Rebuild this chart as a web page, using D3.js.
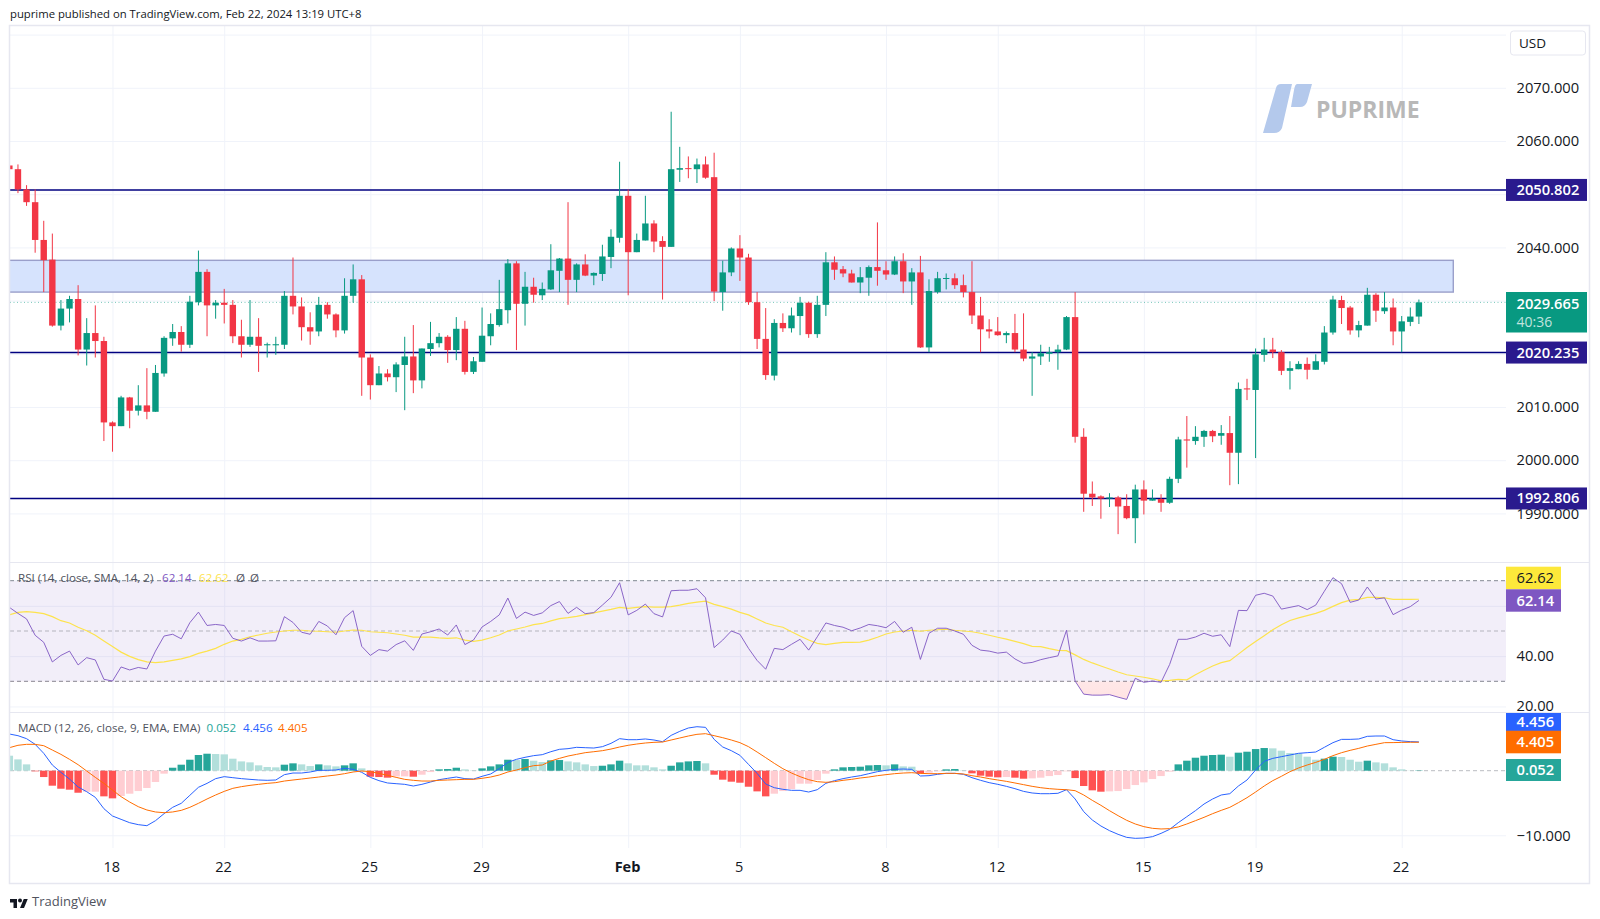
<!DOCTYPE html>
<html>
<head>
<meta charset="utf-8">
<script src="https://cdn.jsdelivr.net/npm/d3@7"></script>
<style>
  body { margin: 0; background: #fff; }
  text { font-family: "Open Sans", "Noto Sans", sans-serif; }
</style>
</head>
<body>
<div id="chart"></div>
<script>
// Candles (4h bars)
const opens = [
  2055.4,2054.7,2050.9,2048.5,2041.4,2037.7,2025.3,2028.5,2030.3,2020.8,
  2023.9,2022.4,2007.1,2006.4,2011.8,2009.3,2010.3,2009.1,2016.3,2022.9,
  2024.1,2021.7,2029.7,2035.4,2029.1,2029.6,2029.2,2023.3,2021.7,2023.2,
  2021.6,2021.6,2021.7,2030.9,2028.9,2025.0,2024.2,2029.2,2027.4,2024.4,
  2030.9,2034.0,2019.3,2014.1,2016.3,2015.6,2017.9,2019.5,2015.0,2020.9,
  2022.0,2023.2,2020.7,2024.7,2016.6,2018.5,2023.3,2025.4,2028.2,2037.0,
  2029.4,2032.6,2031.0,2032.1,2035.6,2037.9,2033.9,2036.8,2034.7,2035.0,
  2038.2,2041.8,2049.7,2039.1,2041.3,2044.5,2041.2,2040.1,2054.6,2054.9,
  2054.7,2055.6,2053.2,2031.6,2035.3,2039.8,2038.1,2029.7,2022.8,2015.9,
  2025.8,2024.8,2027.1,2029.6,2023.7,2029.2,2037.2,2035.9,2035.1,2033.4,
  2034.3,2036.3,2035.7,2034.9,2037.4,2033.6,2035.3,2021.2,2031.6,2034.12,
  2034.2,2032.9,2031.6,2027.2,2024.6,2024.2,2023.5,2023.9,2020.8,2019.1,
  2019.5,2020.0,2020.3,2020.8,2026.9,2004.4,1993.7,1993.2,1992.8,1993.0,
  1991.4,1989.1,1994.5,1992.4,1992.7,1992.0,1996.5,2003.9,2003.6,2004.4,
  2005.5,2004.6,2005.1,2001.4,2013.5,2013.2,2019.8,2020.8,2020.3,2016.8,
  2017.1,2018.1,2017.0,2018.5,2024.0,2030.1,2028.7,2024.4,2025.3,2031.1,
  2028.0,2028.7,2024.2,2026.0,2027.0
];
const closes = [
  2054.7,2050.9,2048.5,2041.4,2037.6,2025.3,2028.5,2030.3,2020.8,2023.9,
  2022.4,2007.1,2006.4,2011.8,2009.3,2010.3,2009.1,2016.4,2023.0,2024.1,
  2021.7,2029.8,2035.4,2029.1,2029.6,2029.2,2023.3,2021.7,2023.2,2021.5,
  2021.8,2021.8,2030.9,2028.9,2025.0,2024.2,2029.2,2027.4,2024.4,2030.9,
  2034.0,2019.3,2014.1,2016.3,2015.6,2018.0,2019.5,2015.0,2021.0,2022.0,
  2023.2,2020.7,2024.7,2016.6,2018.6,2023.4,2025.6,2028.4,2037.0,2029.4,
  2032.6,2031.1,2032.2,2035.7,2037.9,2033.9,2036.8,2034.7,2035.2,2038.3,
  2042.0,2049.7,2039.1,2041.4,2044.5,2041.1,2040.1,2054.7,2054.9,2054.8,
  2055.6,2053.1,2031.7,2035.3,2039.8,2038.1,2029.7,2022.8,2016.0,2025.8,
  2024.8,2027.2,2029.6,2023.7,2029.2,2037.2,2035.8,2035.1,2033.4,2034.4,
  2036.3,2035.6,2034.9,2037.4,2033.6,2035.3,2021.2,2031.8,2034.2,2034.25,
  2032.9,2031.6,2027.2,2024.6,2024.2,2023.5,2023.9,2020.8,2019.1,2019.5,
  2020.1,2020.3,2020.8,2026.9,2004.4,1993.7,1993.0,1992.8,1993.0,1991.3,
  1989.1,1994.5,1992.4,1992.8,1992.0,1996.5,2003.9,2003.7,2004.4,2005.5,
  2004.5,2005.1,2001.4,2013.4,2013.3,2019.9,2020.8,2020.3,2016.8,2017.3,
  2018.1,2017.0,2018.6,2024.0,2030.2,2028.6,2024.4,2025.4,2031.1,2028.1,
  2028.7,2024.2,2026.1,2027.0,2029.665
];
const highs = [
  2055.4,2055.6,2051.7,2050.9,2045.0,2042.6,2030.1,2030.9,2032.9,2026.7,
  2029.1,2023.2,2007.3,2012.1,2011.9,2014.1,2017.3,2017.9,2023.3,2025.6,
  2025.2,2030.9,2039.4,2035.9,2030.1,2032.2,2030.1,2026.4,2030.1,2026.7,
  2022.1,2023.2,2031.8,2038.1,2030.6,2027.8,2030.7,2029.7,2027.6,2034.2,
  2036.8,2034.8,2019.9,2017.7,2017.1,2018.4,2023.2,2025.4,2021.0,2026.0,
  2023.9,2023.5,2026.9,2026.2,2019.4,2028.7,2027.6,2033.9,2037.8,2037.4,
  2035.4,2034.3,2033.4,2040.6,2038.0,2048.5,2037.0,2038.7,2035.3,2040.5,
  2043.4,2056.1,2050.9,2042.6,2049.7,2045.1,2042.1,2065.5,2058.9,2057.1,
  2056.7,2057.1,2057.8,2037.5,2040.0,2042.3,2038.8,2031.6,2028.6,2026.5,
  2027.6,2028.7,2030.7,2029.8,2030.9,2039.1,2038.3,2036.5,2035.8,2036.3,
  2036.6,2044.7,2037.4,2038.3,2038.9,2036.1,2038.4,2034.0,2035.4,2035.1,
  2035.1,2034.9,2037.4,2030.7,2026.5,2026.9,2024.2,2027.5,2027.6,2020.3,
  2021.7,2021.3,2021.7,2027.1,2031.6,2006.0,1996.0,1993.4,1993.8,1993.3,
  1993.6,1995.4,1996.2,1994.5,1993.6,1996.9,2004.4,2008.3,2006.4,2005.7,
  2005.7,2006.6,2008.3,2014.6,2015.3,2021.0,2023.0,2023.0,2020.7,2018.6,
  2018.6,2019.3,2019.9,2025.2,2030.9,2030.9,2029.0,2026.2,2032.4,2031.4,
  2031.6,2030.4,2027.1,2028.7,2030.2
];
const lows = [
  2054.7,2050.2,2047.8,2039.0,2031.6,2025.1,2024.4,2025.9,2019.7,2017.8,
  2019.3,2003.6,2001.6,2006.4,2006.0,2008.4,2007.7,2009.1,2015.7,2021.5,
  2020.4,2021.1,2029.1,2023.3,2026.6,2025.7,2022.0,2019.3,2021.3,2016.6,
  2019.3,2019.8,2020.9,2027.4,2022.5,2021.7,2023.3,2026.6,2023.1,2023.8,
  2029.6,2012.1,2011.4,2014.1,2014.8,2012.8,2009.4,2012.6,2013.5,2019.6,
  2021.2,2018.3,2018.8,2016.1,2016.2,2018.5,2021.6,2025.1,2025.7,2020.7,
  2025.3,2029.6,2030.1,2032.0,2031.6,2029.2,2031.6,2034.6,2032.9,2033.7,
  2036.1,2040.9,2031.0,2039.1,2041.3,2039.1,2030.2,2040.1,2052.3,2053.0,
  2052.1,2052.9,2029.9,2028.1,2034.6,2033.7,2029.2,2020.9,2015.1,2015.0,
  2024.1,2024.0,2023.5,2023.0,2023.0,2027.1,2033.9,2034.4,2033.4,2031.4,
  2030.9,2032.8,2033.9,2034.8,2031.4,2029.2,2021.1,2020.3,2031.3,2032.1,
  2032.2,2030.6,2025.6,2020.3,2022.9,2023.4,2022.0,2020.3,2018.6,2012.1,
  2017.9,2018.5,2017.0,2020.7,2003.3,1990.3,1991.4,1989.0,1991.2,1986.1,
  1988.9,1984.4,1989.8,1992.4,1990.3,1991.8,1995.7,1998.6,2002.9,2002.5,
  2003.4,2002.9,1995.3,1995.5,2011.3,2000.4,2018.5,2019.2,2016.0,2013.3,
  2017.1,2015.2,2017.0,2018.0,2023.6,2025.6,2023.6,2023.1,2025.3,2026.0,
  2027.5,2021.6,2020.3,2025.2,2025.6
];

// RSI and its moving average
const rsi = [
  59.4,57.0,54.8,48.3,45.5,37.7,40.3,42.0,36.5,39.4,
  38.5,30.8,30.1,35.7,34.5,35.5,34.9,42.0,48.0,48.7,
  46.9,53.3,57.5,52.2,52.6,52.2,47.1,46.0,47.3,46.0,
  46.0,46.1,55.7,53.4,49.5,48.7,53.8,52.0,48.5,55.3,
  58.1,43.9,40.3,42.6,42.0,44.6,46.1,42.3,48.8,49.7,
  50.8,48.4,52.4,44.6,46.4,51.6,53.8,56.4,63.1,55.0,
  57.5,56.2,57.2,60.1,61.7,57.0,59.4,56.9,57.3,60.3,
  63.4,69.2,56.4,58.2,60.7,56.9,55.6,66.0,66.2,66.2,
  66.8,63.2,43.4,46.4,50.0,48.7,43.1,38.3,34.8,43.1,
  42.6,44.7,46.7,42.4,47.7,53.2,52.2,51.5,50.1,51.2,
  52.6,52.1,51.3,53.8,49.5,51.5,38.7,49.1,51.1,51.1,
  50.0,48.7,44.3,42.4,42.0,41.2,41.6,38.9,37.1,37.5,
  38.6,39.4,40.1,50.3,30.1,24.9,24.5,24.5,24.7,23.7,
  22.8,31.2,29.6,30.1,29.6,36.7,46.7,46.7,47.6,49.1,
  47.9,48.5,43.8,58.2,58.1,64.2,65.0,63.9,58.7,59.4,
  60.1,58.5,60.3,65.8,71.2,68.8,61.4,62.3,67.5,62.7,
  63.2,56.5,58.3,59.7,62.14
];
const rsiMa = [
  56.4,57.4,57.7,57.4,56.9,55.7,54.1,53.2,51.5,50.1,
  48.3,46.0,43.8,41.6,39.9,38.6,37.7,37.4,37.7,38.3,
  38.9,39.8,41.1,42.0,43.1,44.7,46.0,46.7,47.7,48.4,
  49.1,49.6,50.0,50.3,50.3,50.0,49.9,49.7,49.5,50.0,
  50.4,50.3,49.7,49.5,49.3,48.8,48.3,47.6,47.6,47.6,
  47.3,47.1,47.3,46.4,45.9,46.4,47.3,48.4,50.0,50.8,
  51.6,52.5,53.0,54.0,54.9,55.3,55.8,56.5,57.2,57.9,
  58.6,59.4,59.0,59.4,59.7,59.5,59.5,59.7,60.3,61.0,
  61.5,61.9,60.6,59.7,58.7,57.4,56.4,54.8,53.2,52.2,
  51.5,49.7,48.0,46.4,45.1,44.6,45.1,45.5,45.5,45.6,
  46.4,47.5,48.8,49.6,50.0,50.3,49.9,50.3,50.5,50.7,
  50.3,50.0,49.7,49.1,48.3,47.5,46.8,45.9,45.0,43.9,
  43.8,43.0,42.3,42.2,40.5,38.7,37.3,36.1,34.9,33.7,
  32.6,32.1,31.6,31.0,30.2,30.4,30.8,30.6,32.6,34.4,
  36.1,37.4,38.2,40.8,43.4,45.8,48.1,50.5,52.5,54.2,
  55.2,56.1,57.0,58.2,59.8,61.3,62.3,62.6,63.4,63.4,
  63.2,62.6,62.6,62.6,62.62
];

// MACD line, signal line, histogram
const macd = [
  5.68,5.42,4.96,4.08,2.69,0.88,-0.25,-1.29,-2.52,-3.25,
  -4.12,-5.88,-7.01,-7.53,-8.05,-8.35,-8.51,-7.74,-6.65,-5.67,
  -5.05,-3.81,-2.57,-1.96,-1.23,-0.92,-1.08,-1.23,-1.34,-1.44,
  -1.49,-1.44,-0.61,-0.36,-0.36,-0.20,0.06,0.06,0.11,0.37,
  0.21,-0.25,-1.03,-1.54,-1.90,-2.01,-2.11,-2.37,-2.11,-1.75,
  -1.39,-1.18,-0.98,-1.23,-1.29,-0.87,-0.51,0.31,1.29,1.76,
  2.07,2.33,2.48,2.94,3.31,3.41,3.62,3.56,3.51,3.72,
  4.23,4.96,4.80,4.80,4.91,4.75,4.49,5.47,6.09,6.61,
  6.81,6.71,4.85,3.67,3.10,2.38,0.98,-0.41,-2.06,-2.63,
  -2.88,-3.04,-3.04,-3.30,-2.94,-1.96,-1.54,-1.23,-0.98,-0.77,
  -0.46,-0.15,0.06,0.21,0.26,0.21,-0.82,-0.77,-0.56,-0.41,
  -0.41,-0.56,-1.08,-1.49,-1.85,-2.11,-2.42,-2.78,-3.20,-3.45,
  -3.56,-3.56,-3.50,-2.94,-4.38,-6.34,-7.63,-8.56,-9.28,-9.85,
  -10.32,-10.47,-10.42,-10.21,-9.70,-9.08,-8.05,-7.12,-6.19,-5.16,
  -4.38,-3.76,-3.56,-2.37,-1.44,0.11,1.45,1.91,2.17,2.43,
  2.69,2.79,2.89,3.62,4.34,4.85,4.85,4.91,5.32,5.37,
  5.37,4.80,4.60,4.50,4.456
];
const signal = [
  3.56,3.93,4.08,4.08,3.87,3.20,2.53,1.76,0.93,-0.05,
  -1.03,-1.96,-2.99,-4.02,-4.85,-5.57,-6.08,-6.39,-6.50,-6.39,
  -6.14,-5.67,-5.05,-4.38,-3.76,-3.20,-2.73,-2.47,-2.27,-2.11,
  -1.96,-1.85,-1.60,-1.44,-1.29,-1.13,-0.98,-0.82,-0.67,-0.46,
  -0.20,-0.05,-0.15,-0.41,-0.72,-1.03,-1.34,-1.49,-1.60,-1.60,
  -1.49,-1.44,-1.39,-1.34,-1.34,-1.18,-0.98,-0.67,-0.20,0.11,
  0.47,0.78,0.88,1.50,1.91,2.27,2.53,2.79,2.94,3.10,
  3.35,3.67,3.93,4.13,4.29,4.39,4.44,4.75,5.06,5.37,
  5.63,5.73,5.42,5.11,4.75,4.34,3.72,2.89,2.02,1.14,
  0.31,-0.36,-0.92,-1.39,-1.70,-1.80,-1.70,-1.49,-1.34,-1.13,
  -0.98,-0.77,-0.61,-0.46,-0.36,-0.31,-0.41,-0.46,-0.46,-0.41,
  -0.41,-0.51,-0.77,-0.98,-1.23,-1.44,-1.65,-1.90,-2.16,-2.42,
  -2.63,-2.78,-2.88,-2.94,-3.09,-3.76,-4.59,-5.36,-6.19,-6.96,
  -7.68,-8.25,-8.66,-8.92,-9.02,-8.97,-8.71,-8.25,-7.74,-7.22,
  -6.65,-6.14,-5.67,-4.95,-4.18,-3.30,-2.37,-1.54,-0.87,-0.15,
  0.42,0.88,1.29,1.76,2.33,2.79,3.15,3.46,3.82,4.08,
  4.34,4.35,4.38,4.40,4.405
];
const hist = [
  2.32,1.75,0.98,-0.10,-0.98,-2.32,-2.79,-2.94,-3.41,-3.25,
  -3.25,-3.97,-4.28,-3.92,-3.56,-3.15,-2.68,-1.75,-0.46,0.46,
  0.93,1.70,2.43,2.63,2.58,2.53,1.86,1.44,1.29,0.83,
  0.57,0.52,0.93,1.14,0.98,0.72,0.98,0.83,0.67,0.83,
  1.14,0.36,-0.93,-0.98,-1.08,-0.88,-0.88,-0.93,-0.62,-0.21,
  0.21,0.26,0.46,0.21,0.05,0.36,0.67,0.98,1.70,1.65,
  1.81,1.55,1.34,1.60,1.65,1.44,1.29,0.98,0.72,0.77,
  0.98,1.55,1.14,0.83,0.83,0.52,0.21,0.77,1.29,1.44,
  1.50,1.14,-0.62,-1.39,-1.70,-1.86,-2.48,-3.20,-3.97,-3.56,
  -3.15,-2.84,-2.01,-2.01,-1.44,-0.46,0.21,0.52,0.57,0.62,
  0.83,0.88,0.83,0.98,0.67,0.62,-0.46,-0.31,-0.10,0.21,
  0.26,0.05,-0.41,-0.77,-0.93,-1.03,-0.98,-1.08,-1.24,-1.19,
  -1.08,-0.83,-0.67,-0.10,-1.14,-2.37,-3.04,-3.25,-3.20,-3.15,
  -2.84,-2.22,-1.81,-1.29,-0.83,-0.15,0.98,1.55,2.01,2.32,
  2.43,2.48,2.17,2.79,2.94,3.35,3.51,3.46,3.10,2.73,
  2.68,2.17,1.70,1.86,2.17,2.12,1.70,1.39,1.55,1.29,
  1.14,0.52,0.21,0.03,0.052
];

// Horizontal levels and the supply box
const levels = [2050.802, 2020.235, 1992.806];
const boxTop = 2037.57, boxBottom = 2031.6, boxEndBar = 168;
const lastPrice = 2029.665;

// Axis ticks
const priceTicks = [1990, 2000, 2010, 2020, 2030, 2040, 2050, 2060, 2070, 2080];
const priceLabels = [1990, 2000, 2010, 2040, 2060, 2070];
const rsiGrid = [20, 40, 60];
const rsiLabels = [40];
const rsiBands = [70, 50, 30];
const macdGrid = [-10];
const timeBars = [12, 25, 42, 55, 72, 85, 102, 115, 132, 145, 162];
const timeLabels = ["18", "22", "25", "29", "Feb", "5", "8", "12", "15", "19", "22"];

const W = 1600, H = 919;
const plotLeft = 10, axisX = 1506, frameRight = 1589;
const plotTop = 26, rsiTop = 562, macdTop = 712, plotBottom = 848, frameBottom = 883;

const svg = d3.select("#chart").append("svg")
  .attr("width", W).attr("height", H)
  .style("display", "block");

const bars = d3.range(opens.length);
const x = d3.scaleLinear().domain([0, 164]).range([9.36, 1418.9]);
const y = d3.scaleLinear().domain([2010, 2070]).range([407, 87.8]);
const yRsi = d3.scaleLinear().domain([30, 70]).range([681.3, 580.7]);
const yMacd = d3.scaleLinear().domain([0, -10]).range([770.7, 835.3]);

const defs = svg.append("defs");
const clip = (id, y0, y1) => defs.append("clipPath").attr("id", id)
  .append("rect").attr("x", plotLeft).attr("y", y0).attr("width", axisX - plotLeft).attr("height", y1 - y0);
clip("clip-main", plotTop, rsiTop);
clip("clip-rsi", rsiTop, macdTop);
clip("clip-macd", macdTop, plotBottom);

const oversold = defs.append("linearGradient").attr("id", "oversold")
  .attr("x1", 0).attr("x2", 0).attr("y1", 0).attr("y2", 1);
oversold.append("stop").attr("offset", 0).attr("stop-color", "#ff5252").attr("stop-opacity", 0.01);
oversold.append("stop").attr("offset", 1).attr("stop-color", "#ff5252").attr("stop-opacity", 0.16);

const gridColor = "#f0f3fa";
const axisColor = "#131722";

// Vertical grid and the time axis
const xAxis = svg.append("g")
  .attr("transform", `translate(0,${plotBottom})`)
  .call(d3.axisBottom(x)
    .tickValues(timeBars)
    .tickSize(-(plotBottom - plotTop))
    .tickPadding(13.5)
    .tickFormat((d, i) => timeLabels[i]));
xAxis.select(".domain").remove();
xAxis.selectAll("line").attr("stroke", gridColor);
xAxis.selectAll("text")
  .attr("dx", -1.2)
  .attr("fill", axisColor)
  .style("font-size", "14.5px")
  .style("font-weight", (d, i) => timeLabels[i] === "Feb" ? 700 : 400);

// Horizontal grid for one pane
function hGrid(scale, ticks) {
  const g = svg.append("g")
    .attr("transform", `translate(${axisX},0)`)
    .call(d3.axisLeft(scale).tickValues(ticks).tickSize(axisX - plotLeft).tickFormat(""));
  g.select(".domain").remove();
  g.selectAll("line").attr("stroke", gridColor);
}

// Tick labels for one pane
function yLabels(scale, ticks, fmt) {
  const g = svg.append("g")
    .attr("transform", `translate(${axisX},0)`)
    .call(d3.axisRight(scale).tickValues(ticks).tickSize(0).tickPadding(10.5).tickFormat(fmt));
  g.select(".domain").remove();
  g.selectAll("text").attr("fill", axisColor).style("font-size", "14.7px");
}

hGrid(y, priceTicks);
hGrid(yMacd, macdGrid);

// Main pane
const main = svg.append("g").attr("clip-path", "url(#clip-main)");

main.append("rect")
  .attr("x", plotLeft - 5)
  .attr("y", y(boxTop))
  .attr("width", x(boxEndBar) - plotLeft + 5)
  .attr("height", y(boxBottom) - y(boxTop))
  .attr("fill", "#d6e3fd")
  .attr("stroke", "#9a9fca")
  .attr("stroke-width", 1.4);

main.append("line")
  .attr("x1", plotLeft).attr("x2", axisX)
  .attr("y1", y(lastPrice)).attr("y2", y(lastPrice))
  .attr("stroke", "#089981").attr("stroke-opacity", 0.55)
  .attr("stroke-dasharray", "1 2.5");

main.selectAll(".level")
  .data(levels)
  .join("line")
  .attr("class", "level")
  .attr("x1", plotLeft).attr("x2", axisX)
  .attr("y1", d => y(d)).attr("y2", d => y(d))
  .attr("stroke", "#000080")
  .attr("stroke-width", 1.6);

const upColor = "#089981", downColor = "#f23645";
const candleColor = i => closes[i] >= opens[i] ? upColor : downColor;

main.selectAll(".wick")
  .data(bars)
  .join("line")
  .attr("class", "wick")
  .attr("x1", i => x(i)).attr("x2", i => x(i))
  .attr("y1", i => y(highs[i])).attr("y2", i => y(lows[i]))
  .attr("stroke", candleColor)
  .attr("stroke-width", 1);

main.selectAll(".body")
  .data(bars)
  .join("rect")
  .attr("class", "body")
  .attr("x", i => x(i) - 3.2)
  .attr("width", 6.4)
  .attr("y", i => y(Math.max(opens[i], closes[i])))
  .attr("height", i => Math.max(1, Math.abs(y(opens[i]) - y(closes[i]))))
  .attr("fill", candleColor);

// Watermark
const logo = svg.append("g").attr("fill", "#b4c9ec");
logo.append("path").attr("d", "M1276 88 Q1277 84 1281 84 L1292 84 L1282 128 Q1280 133 1274 133 L1263 133 Z");
logo.append("path").attr("d", "M1297 84 L1312 84 L1307 102 Q1305 107 1300 107 L1291 107 L1294 90 Q1295 84 1297 84 Z");
svg.append("text")
  .attr("x", 1316).attr("y", 117.5)
  .attr("fill", "#b8b8b8")
  .style("font-size", "23px").style("font-weight", 700)
  .text("PUPRIME");

// RSI pane
hGrid(yRsi, rsiGrid);
const rsiPane = svg.append("g").attr("clip-path", "url(#clip-rsi)");

rsiPane.append("rect")
  .attr("x", plotLeft).attr("width", axisX - plotLeft)
  .attr("y", yRsi(70)).attr("height", yRsi(30) - yRsi(70))
  .attr("fill", "#7e57c2").attr("fill-opacity", 0.1);

rsiPane.selectAll(".band")
  .data(rsiBands)
  .join("line")
  .attr("class", "band")
  .attr("x1", plotLeft).attr("x2", axisX)
  .attr("y1", d => yRsi(d)).attr("y2", d => yRsi(d))
  .attr("stroke", "#787b86")
  .attr("stroke-opacity", d => d === 50 ? 0.5 : 0.9)
  .attr("stroke-dasharray", "4 3");

// Shading where RSI leaves the 30-70 band
defs.append("clipPath").attr("id", "below30").append("rect")
  .attr("x", plotLeft).attr("width", axisX - plotLeft).attr("y", yRsi(30)).attr("height", macdTop - yRsi(30));
defs.append("clipPath").attr("id", "above70").append("rect")
  .attr("x", plotLeft).attr("width", axisX - plotLeft).attr("y", rsiTop).attr("height", yRsi(70) - rsiTop);
rsiPane.append("path").datum(bars)
  .attr("clip-path", "url(#below30)")
  .attr("fill", "url(#oversold)")
  .attr("d", d3.area().x(i => x(i)).y0(yRsi(30)).y1(i => yRsi(rsi[i])));
rsiPane.append("path").datum(bars)
  .attr("clip-path", "url(#above70)")
  .attr("fill", "#26a69a").attr("fill-opacity", 0.15)
  .attr("d", d3.area().x(i => x(i)).y0(yRsi(70)).y1(i => yRsi(rsi[i])));

const drawLine = (pane, scale, values, color) => pane.append("path").datum(bars)
  .attr("fill", "none")
  .attr("stroke", color)
  .attr("stroke-width", 1)
  .attr("d", d3.line().x(i => x(i)).y(i => scale(values[i])));

drawLine(rsiPane, yRsi, rsiMa, "#fde34d").attr("stroke-width", 1.2);
drawLine(rsiPane, yRsi, rsi, "#7e57c2").attr("stroke-opacity", 0.9);

// MACD pane
const macdPane = svg.append("g").attr("clip-path", "url(#clip-macd)");

macdPane.append("line")
  .attr("x1", plotLeft).attr("x2", axisX)
  .attr("y1", yMacd(0)).attr("y2", yMacd(0))
  .attr("stroke", "#787b86").attr("stroke-opacity", 0.5)
  .attr("stroke-dasharray", "4 3");

// Dark when the histogram grows away from zero, pale when it shrinks
function histColor(i) {
  const v = hist[i];
  const prev = i > 0 ? hist[i - 1] : Infinity;
  if (v >= 0) return v > prev ? "#26a69a" : "#b2dfdb";
  return v < prev ? "#ff5252" : "#ffcdd2";
}

macdPane.selectAll(".hist")
  .data(bars)
  .join("rect")
  .attr("class", "hist")
  .attr("x", i => x(i) - 3.7)
  .attr("width", 7.4)
  .attr("y", i => Math.min(yMacd(hist[i]), yMacd(0)))
  .attr("height", i => Math.abs(yMacd(hist[i]) - yMacd(0)))
  .attr("fill", histColor);

drawLine(macdPane, yMacd, macd, "#2962ff");
drawLine(macdPane, yMacd, signal, "#ff6d00");

// Pane separators and frame
svg.selectAll(".sep")
  .data([rsiTop, macdTop])
  .join("line")
  .attr("class", "sep")
  .attr("x1", plotLeft).attr("x2", frameRight)
  .attr("y1", d => d + 0.5).attr("y2", d => d + 0.5)
  .attr("stroke", "#e6e7f0").attr("stroke-width", 1);

svg.append("rect")
  .attr("x", plotLeft - 0.5).attr("y", plotTop - 0.5)
  .attr("width", frameRight - plotLeft + 1).attr("height", frameBottom - plotTop + 1)
  .attr("fill", "none")
  .attr("stroke", "#e6e7f0").attr("stroke-width", 1.5);

// Price scale labels
yLabels(y, priceLabels, d3.format(".3f"));
yLabels(yRsi, rsiLabels, d3.format(".2f"));
yLabels(yMacd, macdGrid, d => d3.format(".3f")(d).replace("-", "\u2212"));

// RSI 20 sits at the pane edge, its label is pushed up
svg.append("text")
  .attr("x", axisX + 10.5).attr("y", 711)
  .attr("fill", axisColor).style("font-size", "14.7px")
  .text(d3.format(".2f")(20));

// Price flags
function flag(yMid, h, w, fill, label, textColor, weight) {
  svg.append("rect")
    .attr("x", axisX).attr("y", yMid - h / 2)
    .attr("width", w).attr("height", h)
    .attr("fill", fill);
  svg.append("text")
    .attr("x", axisX + 10.5).attr("y", yMid + 5)
    .attr("fill", textColor)
    .style("font-size", "14.7px")
    .style("font-weight", weight || 400)
    .text(label);
}

levels.forEach(v => flag(y(v), 22, frameRight - axisX - 2, "#2a1a8e", d3.format(".3f")(v), "#fff", 600));

svg.append("rect")
  .attr("x", axisX).attr("y", 292)
  .attr("width", frameRight - axisX - 2).attr("height", 40.5)
  .attr("fill", upColor);
svg.append("text")
  .attr("x", axisX + 10.5).attr("y", 308.5)
  .attr("fill", "#fff").style("font-size", "14.7px").style("font-weight", 600)
  .text(d3.format(".3f")(lastPrice));
svg.append("text")
  .attr("x", axisX + 10.5).attr("y", 327)
  .attr("fill", "#fff").attr("fill-opacity", 0.75).style("font-size", "14px")
  .text("40:36");

flag(578, 22.6, 55, "#fde83a", "62.62", axisColor);
flag(600.5, 22.4, 55, "#7e57c2", "62.14", "#fff", 600);
flag(722, 18, 55, "#2962ff", "4.456", "#fff", 600);
flag(742, 22.6, 55, "#ff6d00", "4.405", "#fff", 600);
flag(770, 22, 55, "#26a69a", "0.052", "#fff", 600);

// USD button
svg.append("rect")
  .attr("x", 1510.5).attr("y", 31)
  .attr("width", 75).attr("height", 24).attr("rx", 3)
  .attr("fill", "#fff").attr("stroke", "#e6e7f0");
svg.append("text")
  .attr("x", 1519).attr("y", 48)
  .attr("fill", axisColor).style("font-size", "13.5px")
  .text("USD");

// Pane legends
function legend(yPos, parts) {
  const t = svg.append("text").attr("y", yPos).style("font-size", "11.6px");
  parts.forEach(([px, color, label]) => {
    t.append("tspan").attr("x", px).attr("fill", color).text(label);
  });
}
legend(581.5, [
  [18, "#50535e", "RSI (14, close, SMA, 14, 2)"],
  [162, "#7e57c2", "62.14"],
  [199, "#fde34d", "62.62"],
  [236, "#50535e", "\u00d8"],
  [250, "#50535e", "\u00d8"]
]);
legend(732, [
  [18, "#50535e", "MACD (12, 26, close, 9, EMA, EMA)"],
  [206.5, "#26a69a", "0.052"],
  [243, "#2962ff", "4.456"],
  [278, "#ff6d00", "4.405"]
]);

// Header and footer
svg.append("text")
  .attr("x", 10).attr("y", 18)
  .attr("fill", "#131722").style("font-size", "11.3px")
  .text("puprime published on TradingView.com, Feb 22, 2024 13:19 UTC+8");

svg.append("path")
  .attr("transform", "translate(10,897) scale(0.5)")
  .attr("fill", "#131722")
  .attr("d", "M14 22H7V11H0V4h14v18zM28 22h-8l7.5-18h8L28 22z");
svg.append("circle")
  .attr("cx", 20).attr("cy", 900.5).attr("r", 2)
  .attr("fill", "#131722");
svg.append("text")
  .attr("x", 32).attr("y", 906)
  .attr("fill", "#50535e").style("font-size", "13px")
  .text("TradingView");
</script>
</body>
</html>
